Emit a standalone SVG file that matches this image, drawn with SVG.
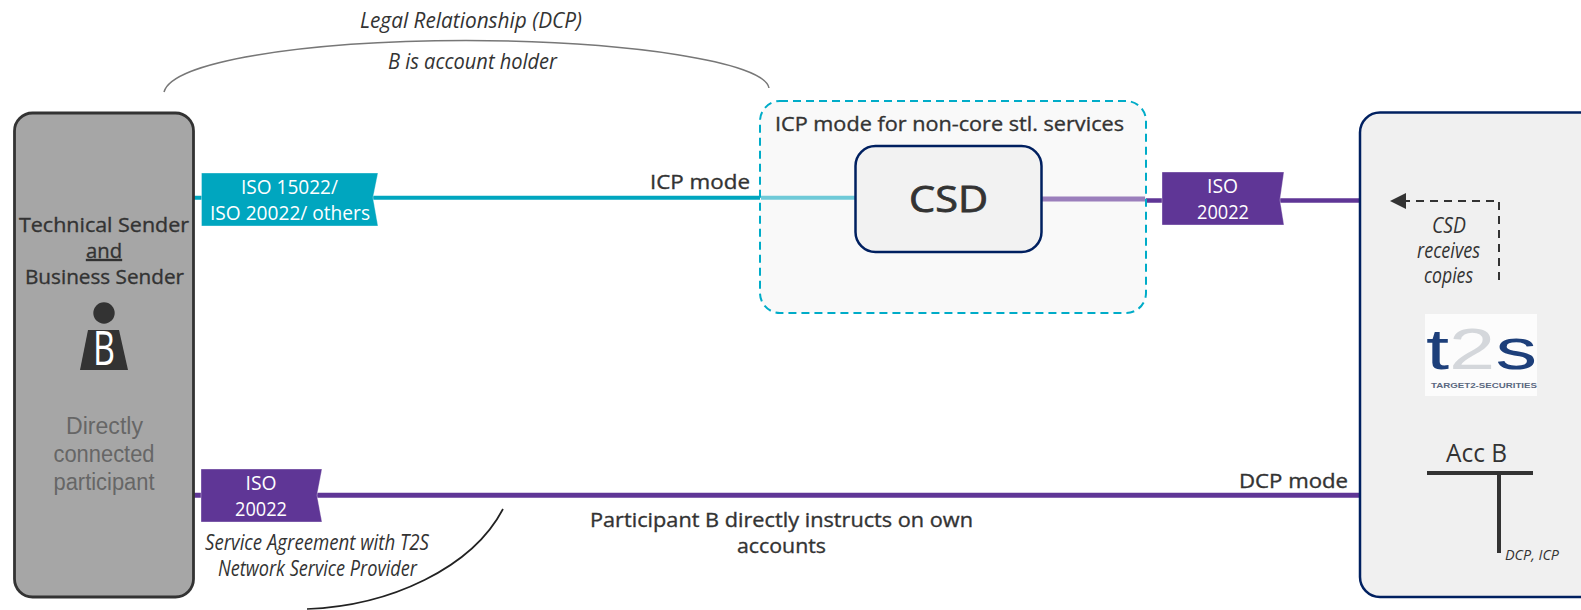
<svg xmlns="http://www.w3.org/2000/svg" width="1581" height="610" viewBox="0 0 1581 610">
<style>
text{font-family:"Open Sans","Noto Sans","Liberation Sans",sans-serif;fill:#333;font-size:20px}
.m{text-anchor:middle}
.h{stroke:#333;stroke-width:.35}
.i{font-style:italic;font-size:21px}
.w{fill:#fff}
.g{font-family:"Liberation Sans",sans-serif;font-size:23px;fill:#666}
.ban{stroke:#fff;stroke-opacity:.35;stroke-width:1}
.logo{font-family:"Liberation Sans",sans-serif;font-size:57px}
</style>
<rect width="1581" height="610" fill="#fff"/>
<g id="connectors" fill="none">
<path d="M194 197.700H760" stroke="#00a6bf" stroke-width="4"/>
<path d="M194 495.300H1360" stroke="#5f3696" stroke-width="5"/>
<path d="M1146 200.500H1360" stroke="#5f3696" stroke-width="4.500"/>
<path d="M164 92C172 62 300 41 466 40.500C630 41 765 62 769 88" stroke="#777" stroke-width="1.500"/>
<path d="M503 509C472 568 390 606 307 609" stroke="#222" stroke-width="1.700"/>
</g>
<g id="sender">
<rect x="14.500" y="113" width="179" height="484" rx="18" fill="#a6a6a6" stroke="#333" stroke-width="2.800"/>
<text x="104" y="232" class="m h" textLength="170" lengthAdjust="spacingAndGlyphs">Technical Sender</text>
<text x="104" y="258" class="m h" text-decoration="underline" textLength="36" lengthAdjust="spacingAndGlyphs">and</text>
<text x="104.500" y="284" class="m h" textLength="159" lengthAdjust="spacingAndGlyphs">Business Sender</text>
<circle cx="104" cy="313" r="10.700" fill="#333"/>
<path d="M88 330H119L128 370H80Z" fill="#333"/>
<text x="104" y="365" class="m w" style="font-size:47px" textLength="22" lengthAdjust="spacingAndGlyphs">B</text>
<text x="104.500" y="434" class="m g" textLength="77" lengthAdjust="spacingAndGlyphs">Directly</text>
<text x="104" y="462" class="m g" textLength="101" lengthAdjust="spacingAndGlyphs">connected</text>
<text x="104" y="490" class="m g" textLength="101" lengthAdjust="spacingAndGlyphs">participant</text>
</g>
<g id="iso-cyan">
<path class="ban" d="M201.500 173H378L373 197.700L378 226H201.500Z" fill="#00a6bf"/>
<text x="289.500" y="194" class="m w" textLength="97" lengthAdjust="spacingAndGlyphs">ISO 15022/</text>
<text x="290" y="220" class="m w" textLength="160" lengthAdjust="spacingAndGlyphs">ISO 20022/ others</text>
</g>
<g id="iso-purple-left">
<path class="ban" d="M201 469H322L317 495.300L322 522H201Z" fill="#5f3696"/>
<text x="261" y="490" class="m w" textLength="31" lengthAdjust="spacingAndGlyphs">ISO</text>
<text x="261" y="516" class="m w" textLength="52" lengthAdjust="spacingAndGlyphs">20022</text>
</g>
<g id="icp-box">
<rect x="760" y="101" width="386" height="212" rx="20" fill="#f9f9f9" stroke="#00acc8" stroke-width="2" stroke-dasharray="8 5"/>
<text x="949.500" y="131" class="m h" textLength="349" lengthAdjust="spacingAndGlyphs">ICP mode for non-core stl. services</text>
<path d="M761 197.700H855" stroke="#6fcad8" stroke-width="4"/>
<path d="M1042 199H1145" stroke="#9b7fbc" stroke-width="5"/>
</g>
<g id="csd">
<rect x="855.500" y="146" width="186" height="106" rx="20" fill="#f2f2f2" stroke="#002060" stroke-width="2.500"/>
<text x="948.500" y="212" class="m h" style="font-size:36px;stroke-width:.8" textLength="79" lengthAdjust="spacingAndGlyphs">CSD</text>
</g>
<g id="iso-purple-right">
<path class="ban" d="M1162 172H1284L1280 200L1284 225H1162Z" fill="#5f3696"/>
<text x="1222.500" y="193" class="m w" textLength="31" lengthAdjust="spacingAndGlyphs">ISO</text>
<text x="1223" y="219" class="m w" textLength="52" lengthAdjust="spacingAndGlyphs">20022</text>
</g>
<g id="t2s-panel">
<rect x="1360" y="112.500" width="240" height="484.500" rx="20" fill="#f0f0f0" stroke="#002060" stroke-width="2.500"/>
<path d="M1499 280V201H1404" fill="none" stroke="#333" stroke-width="2" stroke-dasharray="8 6"/>
<path d="M1390 201L1406 193V209Z" fill="#333"/>
<text x="1449" y="233" class="m i" textLength="34" lengthAdjust="spacingAndGlyphs">CSD</text>
<text x="1448.500" y="258" class="m i" textLength="63" lengthAdjust="spacingAndGlyphs">receives</text>
<text x="1448.500" y="283" class="m i" textLength="49" lengthAdjust="spacingAndGlyphs">copies</text>
<rect x="1425" y="314" width="112" height="82" fill="#fcfcfc"/>
<text x="1426" y="369" class="logo" textLength="111" lengthAdjust="spacingAndGlyphs" style="fill:#1d3f7a">t<tspan style="fill:#d4d7db">2</tspan>s</text>
<text x="1431" y="388" style="font-family:'Liberation Sans',sans-serif;font-size:7px;font-weight:700;fill:#5a6880" textLength="106" lengthAdjust="spacingAndGlyphs">TARGET2-SECURITIES</text>
<text x="1476.500" y="462" class="m" style="font-size:25px" textLength="61" lengthAdjust="spacingAndGlyphs">Acc B</text>
<path d="M1427 473H1533M1499 473V553" fill="none" stroke="#333" stroke-width="4"/>
<text x="1505" y="560" class="i" style="font-size:14px" textLength="54" lengthAdjust="spacingAndGlyphs">DCP, ICP</text>
</g>
<g id="labels">
<text x="471" y="28" class="m i" textLength="222" lengthAdjust="spacingAndGlyphs">Legal Relationship (DCP)</text>
<text x="472.500" y="69" class="m i" textLength="169" lengthAdjust="spacingAndGlyphs">B is account holder</text>
<text x="700" y="189" class="m h" textLength="100" lengthAdjust="spacingAndGlyphs">ICP mode</text>
<text x="1293.500" y="488" class="m h" textLength="109" lengthAdjust="spacingAndGlyphs">DCP mode</text>
<text x="317" y="550" class="m i" textLength="224" lengthAdjust="spacingAndGlyphs">Service Agreement with T2S</text>
<text x="317.500" y="576" class="m i" textLength="199" lengthAdjust="spacingAndGlyphs">Network Service Provider</text>
<text x="781.500" y="527" class="m h" textLength="383" lengthAdjust="spacingAndGlyphs">Participant B directly instructs on own</text>
<text x="781.500" y="553" class="m h" textLength="89" lengthAdjust="spacingAndGlyphs">accounts</text>
</g>
</svg>
